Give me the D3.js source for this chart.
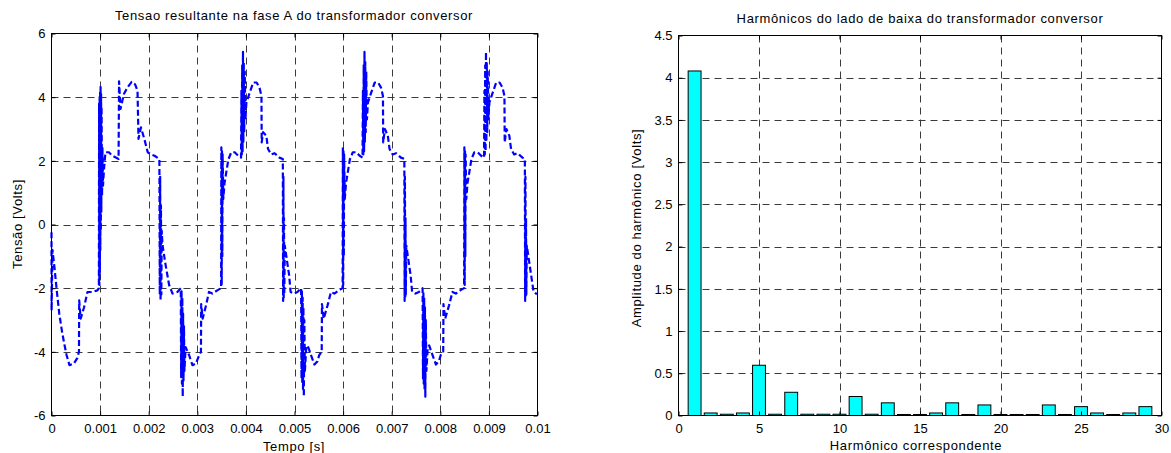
<!DOCTYPE html>
<html><head><meta charset="utf-8">
<script src="https://cdn.jsdelivr.net/npm/d3@7"></script>
<style>
body{margin:0;background:#fff}
svg{display:block}
text{font-family:"Liberation Sans",Arial,Helvetica,sans-serif;fill:#000}
</style>
</head><body>
<svg id="c" width="1171" height="453"></svg>
<script>
// ---------- DATA ----------
// Left chart: time in milliseconds, voltage in volts
const tensaoPontos = [
[0.000,-0.24],[0.002,-2.70],[0.020,-0.80],[0.060,-1.33],[0.110,-2.10],[0.160,-2.80],[0.220,-3.40],[0.270,-3.80],[0.310,-4.10],[0.370,-4.42],[0.460,-4.37],[0.530,-4.20],[0.565,-4.00],[0.570,-2.38],[0.600,-2.96],[0.670,-2.60],[0.740,-2.12],[0.840,-2.12],[0.945,-2.07],[0.975,-2.00],
[0.980,3.80],[0.985,-1.90],[0.990,4.00],[0.995,-1.50],[1.000,4.20],[1.005,-0.80],[1.010,4.36],[1.015,-0.20],[1.020,4.10],[1.025,0.40],[1.030,3.70],[1.040,0.90],[1.048,2.40],[1.060,1.22],[1.080,1.74],[1.110,2.27],[1.180,2.27],[1.250,2.16],[1.380,2.06],[1.390,4.50],[1.420,3.63],[1.490,4.10],[1.560,4.30],[1.650,4.48],[1.720,4.40],[1.770,4.20],[1.790,2.69],[1.840,3.05],[1.910,2.69],[1.980,2.27],[2.050,2.20],[2.120,2.16],[2.220,2.06],
[2.228,-2.20],[2.236,1.50],[2.244,-2.40],[2.252,0.60],[2.260,-2.20],[2.268,-0.20],[2.285,-0.66],[2.350,-1.29],[2.420,-1.90],[2.490,-2.17],[2.590,-2.12],[2.660,-2.00],
[2.668,-4.80],[2.676,-2.10],[2.684,-5.00],[2.692,-2.30],[2.700,-5.41],[2.708,-2.80],[2.716,-4.90],[2.726,-3.20],[2.735,-4.60],[2.760,-3.85],[2.830,-4.10],[2.900,-4.42],[2.970,-4.37],[3.040,-4.10],[3.075,-4.00],[3.080,-2.50],[3.110,-2.96],[3.180,-2.54],[3.240,-2.12],[3.310,-2.17],[3.410,-2.07],[3.490,-2.00],
[3.495,2.42],[3.502,-1.90],[3.508,2.30],[3.515,-1.00],[3.521,2.20],[3.535,0.80],[3.560,1.30],[3.640,2.05],[3.700,2.27],[3.770,2.27],[3.840,2.16],[3.900,2.10],
[3.908,4.20],[3.916,2.20],[3.924,5.00],[3.932,2.30],[3.940,5.42],[3.948,2.60],[3.956,5.10],[3.966,2.90],[3.976,4.80],[3.990,3.30],[4.010,3.83],[4.080,4.15],[4.150,4.46],[4.220,4.46],[4.280,4.30],[4.320,4.04],[4.325,2.58],[4.354,2.90],[4.420,2.79],[4.456,2.37],[4.520,2.20],[4.590,2.24],[4.690,2.10],[4.760,2.06],
[4.766,-2.40],[4.772,1.50],[4.778,-2.30],[4.784,0.20],[4.790,-2.20],[4.800,-0.66],[4.840,-1.08],[4.890,-1.60],[4.920,-2.12],[4.990,-2.17],[5.060,-2.12],[5.136,-2.00],
[5.144,-4.84],[5.152,-2.10],[5.160,-5.00],[5.168,-2.30],[5.176,-5.20],[5.184,-2.60],[5.192,-5.41],[5.202,-3.00],[5.214,-4.60],[5.240,-3.90],[5.270,-3.80],[5.340,-4.10],[5.410,-4.40],[5.470,-4.30],[5.510,-4.10],[5.560,-4.00],[5.565,-2.50],[5.600,-2.96],[5.680,-2.54],[5.750,-2.12],[5.820,-2.17],[5.910,-2.07],[5.990,-2.00],
[5.995,2.42],[6.002,-1.90],[6.008,2.30],[6.015,-1.00],[6.021,2.20],[6.035,0.80],[6.060,1.30],[6.140,2.05],[6.200,2.27],[6.270,2.27],[6.340,2.16],[6.400,2.10],
[6.408,4.20],[6.416,2.20],[6.424,5.00],[6.432,2.30],[6.440,5.42],[6.448,2.60],[6.456,5.10],[6.466,2.90],[6.476,4.80],[6.490,3.30],[6.510,3.83],[6.580,4.15],[6.650,4.46],[6.720,4.46],[6.780,4.30],[6.820,4.04],[6.825,2.58],[6.860,3.00],[6.920,2.79],[6.956,2.37],[7.020,2.20],[7.090,2.24],[7.190,2.10],[7.260,2.06],
[7.266,-2.40],[7.272,1.50],[7.278,-2.30],[7.284,0.20],[7.290,-2.20],[7.300,-0.66],[7.340,-1.08],[7.390,-1.60],[7.420,-2.12],[7.490,-2.17],[7.560,-2.12],[7.636,-2.00],
[7.644,-4.84],[7.652,-2.10],[7.660,-5.00],[7.668,-2.30],[7.676,-5.20],[7.684,-2.60],[7.692,-5.41],[7.702,-3.00],[7.714,-4.60],[7.740,-3.90],[7.770,-3.80],[7.840,-4.10],[7.910,-4.40],[7.970,-4.30],[8.010,-4.10],[8.060,-4.00],[8.065,-2.50],[8.100,-2.96],[8.180,-2.54],[8.250,-2.12],[8.320,-2.17],[8.410,-2.07],[8.490,-2.00],
[8.495,2.42],[8.502,-1.90],[8.508,2.30],[8.515,-1.00],[8.521,2.20],[8.535,0.80],[8.560,1.30],[8.640,2.05],[8.700,2.27],[8.770,2.27],[8.840,2.16],[8.900,2.10],
[8.908,4.20],[8.916,2.20],[8.924,5.00],[8.932,2.30],[8.940,5.42],[8.948,2.60],[8.956,5.10],[8.966,2.90],[8.976,4.80],[8.990,3.30],[9.010,3.83],[9.080,4.15],[9.150,4.46],[9.220,4.46],[9.280,4.30],[9.320,4.04],[9.325,2.58],[9.360,3.00],[9.420,2.79],[9.456,2.37],[9.520,2.20],[9.590,2.24],[9.690,2.10],[9.740,2.06],
[9.746,-2.40],[9.752,1.50],[9.758,-2.30],[9.764,0.20],[9.770,-2.20],[9.780,-0.66],[9.820,-1.08],[9.870,-1.60],[9.920,-2.12],[9.970,-2.17],[10.000,-2.17]
];
const xTicksL = [0,0.001,0.002,0.003,0.004,0.005,0.006,0.007,0.008,0.009,0.01];
const xTickLabelsL = ["0","0.001","0.002","0.003","0.004","0.005","0.006","0.007","0.008","0.009","0.01"];
const yTicksL = [-6,-4,-2,0,2,4,6];
const yTickLabelsL = ["-6","-4","-2","0","2","4","6"];

// Right chart: harmonic orders and amplitudes
const harmonicos = [1,2,3,4,5,6,7,8,9,10,11,12,13,14,15,16,17,18,19,20,21,22,23,24,25,26,27,28,29];
const amplitudes = [4.08,0.03,0.015,0.03,0.595,0.015,0.275,0.015,0.015,0.015,0.225,0.015,0.15,0.012,0.012,0.03,0.15,0.012,0.125,0.012,0.012,0.012,0.125,0.012,0.105,0.03,0.012,0.03,0.105];
const xTicksR = [0,5,10,15,20,25,30];
const xTickLabelsR = ["0","5","10","15","20","25","30"];
const yTicksR = [0,0.5,1,1.5,2,2.5,3,3.5,4,4.5];
const yTickLabelsR = ["0","0.5","1","1.5","2","2.5","3","3.5","4","4.5"];

// ---------- DRAWING ----------
const svg = d3.select("#c");

function frame(x, y, xt, yt) {
  const [x0, x1] = x.range(), [y0, y1] = y.range();
  const g = svg.append("g");
  g.selectAll(".gx").data(xt.filter(d => x(d) > x0 + 1 && x(d) < x1 - 1)).join("line")
    .attr("x1", d => Math.round(x(d)) + 0.5).attr("x2", d => Math.round(x(d)) + 0.5)
    .attr("y1", y1).attr("y2", y0)
    .attr("stroke", "#3a3a3a").attr("stroke-width", 1).attr("stroke-dasharray", "7,5");
  g.selectAll(".gy").data(yt.filter(d => y(d) < y0 - 1 && y(d) > y1 + 1)).join("line")
    .attr("y1", d => Math.round(y(d)) + 0.5).attr("y2", d => Math.round(y(d)) + 0.5)
    .attr("x1", x0).attr("x2", x1)
    .attr("stroke", "#3a3a3a").attr("stroke-width", 1).attr("stroke-dasharray", "7,5");
}

function axes(x, y, xt, xl, yt, yl) {
  const [x0, x1] = x.range(), [y0, y1] = y.range();
  const g = svg.append("g");
  const style = sel => {
    sel.select(".domain").remove();
    sel.selectAll(".tick line").attr("stroke", "#000");
    sel.selectAll("text").attr("font-size", 13).attr("font-family", '"Liberation Sans",Arial,sans-serif').attr("fill", "#000");
  };
  g.append("g").attr("transform", `translate(0,${y0})`)
    .call(d3.axisBottom(x).tickValues(xt).tickFormat((d, i) => xl[i]).tickSizeInner(-4).tickSizeOuter(0).tickPadding(8))
    .call(style);
  g.append("g").attr("transform", `translate(0,${y1})`)
    .call(d3.axisTop(x).tickValues(xt).tickFormat("").tickSizeInner(-4).tickSizeOuter(0))
    .call(style);
  g.append("g").attr("transform", `translate(${x0},0)`)
    .call(d3.axisLeft(y).tickValues(yt).tickFormat((d, i) => yl[i]).tickSizeInner(-4).tickSizeOuter(0).tickPadding(6))
    .call(style);
  g.append("g").attr("transform", `translate(${x1},0)`)
    .call(d3.axisRight(y).tickValues(yt).tickFormat("").tickSizeInner(-4).tickSizeOuter(0))
    .call(style);
  g.append("rect").attr("x", x0).attr("y", y1).attr("width", x1 - x0).attr("height", y0 - y1)
    .attr("fill", "none").attr("stroke", "#000").attr("stroke-width", 1);
}

function label(x, y, rot, txt) {
  svg.append("text")
    .attr("transform", `translate(${x},${y})` + (rot ? " rotate(-90)" : ""))
    .attr("text-anchor", "middle").attr("font-size", 13).attr("letter-spacing", "0.65px")
    .text(txt);
}

// Left chart
const xL = d3.scaleLinear().domain([0, 0.01]).range([51.5, 537.5]);
const yL = d3.scaleLinear().domain([-6, 6]).range([415.5, 33.5]);
frame(xL, yL, xTicksL, yTicksL);
svg.append("path").datum(tensaoPontos)
  .attr("d", d3.line().x(d => xL(d[0] / 1000)).y(d => yL(d[1])))
  .attr("fill", "none").attr("stroke", "#0000ff").attr("stroke-width", 2.2)
  .attr("stroke-dasharray", "6,3").attr("stroke-linejoin", "round");
axes(xL, yL, xTicksL, xTickLabelsL, yTicksL, yTickLabelsL);
label(294, 20, false, "Tensao resultante na fase A do transformador conversor");
label(294, 451, false, "Tempo [s]");
label(21.5, 224, true, "Tensão [Volts]");

// Right chart
const xR = d3.scaleLinear().domain([0, 30]).range([678.5, 1161.5]);
const yR = d3.scaleLinear().domain([0, 4.5]).range([415.5, 35.5]);
frame(xR, yR, xTicksR, yTicksR);
svg.append("g").selectAll("rect").data(harmonicos).join("rect")
  .attr("x", d => xR(d - 0.4)).attr("width", xR(0.8) - xR(0))
  .attr("y", (d, i) => yR(amplitudes[i])).attr("height", (d, i) => yR(0) - yR(amplitudes[i]))
  .attr("fill", "#00ffff").attr("stroke", "#000").attr("stroke-width", 1);
axes(xR, yR, xTicksR, xTickLabelsR, yTicksR, yTickLabelsR);
label(920, 23, false, "Harmônicos do lado de baixa do transformador conversor");
label(916, 450, false, "Harmônico correspondente");
label(641, 228, true, "Amplitude do harmônico [Volts]");
</script>
</body></html>
